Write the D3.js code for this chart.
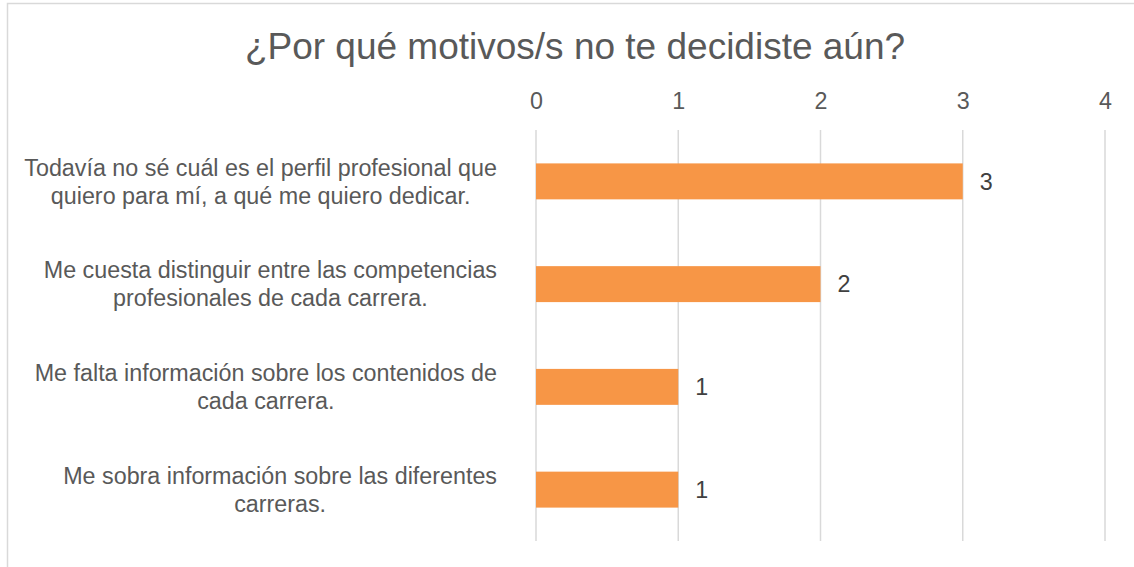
<!DOCTYPE html>
<html>
<head>
<meta charset="utf-8">
<script src="https://cdn.jsdelivr.net/npm/d3@7"></script>
<style>
  body { margin: 0; background: #fff; }
  text { font-family: "Liberation Sans", Arial, sans-serif; }
</style>
</head>
<body>
<script>
// chart data
var title = "¿Por qué motivos/s no te decidiste aún?";
var categories = [
  ["Todavía no sé cuál es el perfil profesional que", "quiero para mí, a qué me quiero dedicar."],
  ["Me cuesta distinguir entre las competencias", "profesionales de cada carrera."],
  ["Me falta información sobre los contenidos de", "cada carrera."],
  ["Me sobra información sobre las diferentes", "carreras."]
];
var values = [3, 2, 1, 1];
var ticks = [0, 1, 2, 3, 4];

// size of the canvas
var totalWidth = 1134;
var totalHeight = 567;
var margin = {top: 130, right: 29, bottom: 26, left: 536};

var svg = d3.select("body").append("svg")
    .attr("width", totalWidth)
    .attr("height", totalHeight);

// chart area border
svg.append("rect")
    .attr("x", 7.5)
    .attr("y", 3.5)
    .attr("width", 1200)
    .attr("height", 700)
    .attr("fill", "#fff")
    .attr("stroke", "#d9d9d9")
    .attr("stroke-width", 1.5);

// title
svg.append("text")
    .attr("x", 575)
    .attr("y", 59)
    .attr("text-anchor", "middle")
    .style("font-size", "37px")
    .style("fill", "#595959")
    .text(title);

// scales
var xScale = d3.scaleLinear()
    .domain([0, 4])
    .range([margin.left, totalWidth - margin.right]);

var yScale = d3.scaleBand()
    .domain(d3.range(categories.length))
    .range([margin.top, totalHeight - margin.bottom])
    .paddingInner(0.65)
    .paddingOuter(0.325);

// gridlines
svg.selectAll(".grid")
    .data(ticks)
    .enter()
    .append("line")
    .attr("x1", function(d) { return xScale(d); })
    .attr("x2", function(d) { return xScale(d); })
    .attr("y1", margin.top)
    .attr("y2", totalHeight - margin.bottom)
    .attr("stroke", "#d9d9d9")
    .attr("stroke-width", 1.5);

// top axis
var axis = svg.append("g")
    .attr("transform", "translate(0," + (margin.top - 21) + ")")
    .call(d3.axisTop(xScale).tickValues(ticks).tickFormat(d3.format("d")).tickSize(0).tickPadding(0));
axis.select(".domain").remove();
axis.selectAll("text")
    .style("font-size", "23.3px")
    .style("fill", "#595959");

// bars
svg.selectAll(".bar")
    .data(values)
    .enter()
    .append("rect")
    .attr("x", xScale(0))
    .attr("y", function(d, i) { return yScale(i); })
    .attr("width", function(d) { return xScale(d) - xScale(0); })
    .attr("height", yScale.bandwidth())
    .attr("fill", "#f79646");

// value labels
svg.selectAll(".value")
    .data(values)
    .enter()
    .append("text")
    .attr("x", function(d) { return xScale(d) + 17; })
    .attr("y", function(d, i) { return yScale(i) + yScale.bandwidth() / 2; })
    .attr("dy", "0.35em")
    .style("font-size", "23.3px")
    .style("fill", "#404040")
    .text(function(d) { return d; });

// category labels: block right aligned, lines centered
var labelRight = margin.left - 39;
var lineHeight = 28;
categories.forEach(function(lines, i) {
  var g = svg.append("g");
  var texts = g.selectAll("text")
      .data(lines)
      .enter()
      .append("text")
      .attr("text-anchor", "middle")
      .attr("y", function(d, j) {
        return yScale(i) + yScale.bandwidth() / 2 + (j - (lines.length - 1) / 2) * lineHeight;
      })
      .attr("dy", "0.35em")
      .style("font-size", "23.3px")
      .style("fill", "#595959")
      .text(function(d) { return d; });
  var maxW = 0;
  texts.each(function() { maxW = Math.max(maxW, this.getComputedTextLength()); });
  texts.attr("x", labelRight - maxW / 2);
});
</script>
</body>
</html>
